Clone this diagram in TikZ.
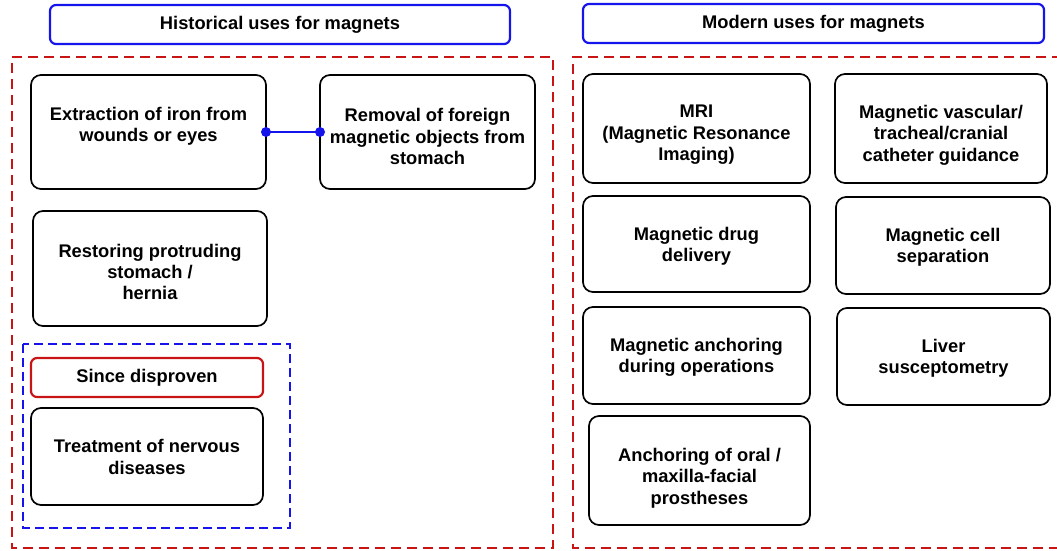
\documentclass[tikz,border=0pt]{standalone}
\usepackage{fontspec}
\setmainfont{Liberation Sans}
\definecolor{dred}{RGB}{200,20,20}
\definecolor{mblue}{RGB}{20,20,235}
\begin{document}
\begin{tikzpicture}[x=1pt,y=-1pt,
  box/.style={draw=black,line width=1.7pt,rounded corners=10pt},
  hdr/.style={draw=mblue,line width=2.2pt,rounded corners=6pt},
  redhdr/.style={draw=dred,line width=2.2pt,rounded corners=6pt},
  reddash/.style={draw=dred,line width=2.8pt,dash pattern=on 10pt off 6pt},
  bluedash/.style={draw=mblue,line width=2.6pt,dash pattern=on 9pt off 5pt},
  lbl/.style={font=\bfseries\fontsize{18.3}{21.4}\selectfont,align=center},
  dot/.style={circle,fill=mblue,inner sep=0pt,minimum size=10pt}]
\useasboundingbox (0,0) rectangle (1057,550);
% dashed containers
\draw[reddash] (12,57) -- (553,57) -- (553,548) -- (12,548) -- cycle;
\draw[reddash] (1062,57) -- (573,57) -- (573,548) -- (1062,548);
\draw[bluedash] (23,344) rectangle (290,528);
% headers
\draw[hdr] (50,5) rectangle (510,44);
\node[lbl] (h1) at (280,24.5) {Historical uses for magnets};
\draw[hdr] (583,4) rectangle (1044,43);
\node[lbl] (h2) at (813.5,23.5) {Modern uses for magnets};
% left boxes
\draw[box] (31,75) rectangle (266,189);
\node[lbl] (ext) at (148.5,126) {Extraction of iron from\\wounds or eyes};
\draw[box] (320,75) rectangle (535,189);
\node[lbl] (rem) at (427.5,136.5) {Removal of foreign\\magnetic objects from\\stomach};
\coordinate (pa) at (266,132);
\coordinate (pb) at (320,132);
\draw[mblue,line width=1.6pt] (pa) -- (pb);
\node[dot] at (pa) {};
\node[dot] at (pb) {};
\draw[box] (33,211) rectangle (267,326);
\node[lbl] (res) at (150,272) {Restoring protruding\\stomach /\\hernia};
\draw[redhdr] (31,358) rectangle (263,397);
\node[lbl] (since) at (147,377.5) {Since disproven};
\draw[box] (31,408) rectangle (263,505);
\node[lbl] (treat) at (147,457) {Treatment of nervous\\diseases};
% right boxes
\draw[box] (583,74) rectangle (810,183);
\node[lbl] (mri) at (696.5,135) {MRI\\(Magnetic Resonance\\Imaging)};
\draw[box] (835,74) rectangle (1047,183);
\node[lbl] (vasc) at (941,135) {Magnetic vascular/\\tracheal/cranial\\catheter guidance};
\draw[box] (583,196) rectangle (810,292);
\node[lbl] (drug) at (696.5,246) {Magnetic drug\\delivery};
\draw[box] (836,197) rectangle (1050,294);
\node[lbl] (cell) at (943,247) {Magnetic cell\\separation};
\draw[box] (583,307) rectangle (810,404);
\node[lbl] (anch) at (696.5,357) {Magnetic anchoring\\during operations};
\draw[box] (837,308) rectangle (1050,405);
\node[lbl] (liver) at (943.5,358) {Liver\\susceptometry};
\draw[box] (589,416) rectangle (810,525);
\node[lbl] (oral) at (699.5,478) {Anchoring of oral /\\maxilla-facial\\prostheses};
\end{tikzpicture}
\end{document}
